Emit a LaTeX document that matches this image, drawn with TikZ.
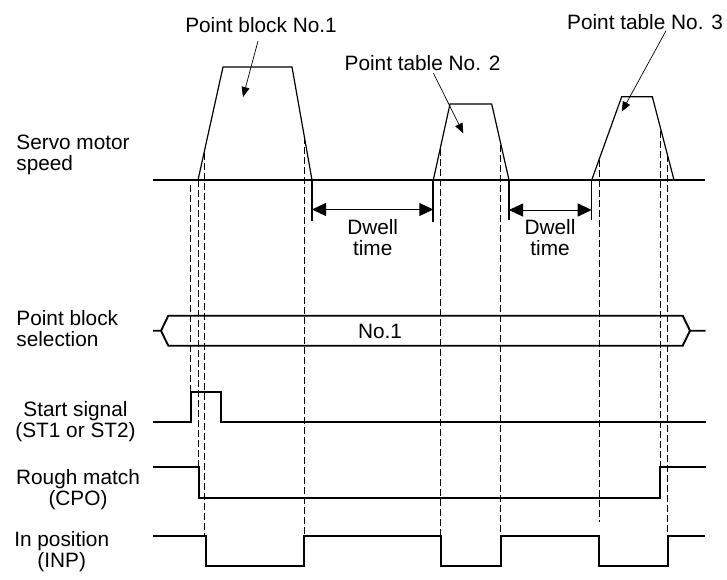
\documentclass[tikz,border=0pt]{standalone}
\usepackage{fontspec}
\setmainfont{Liberation Sans}
\usetikzlibrary{arrows.meta,calc}

\tikzset{
    sig/.style={line width=0.95pt},
    ramp/.style={line width=0.6pt},
    guide/.style={line width=0.4pt, dash pattern=on 3.3pt off 1.7pt},
    pointer/.style={line width=0.35pt, -{Triangle[length=5pt,width=4pt]}},
    dwell/.style={line width=0.45pt, {Triangle[length=7pt,width=6.5pt]}-{Triangle[length=7pt,width=6.5pt]}},
    lbl/.style={inner sep=0pt, align=center}
}

\begin{document}
\begin{tikzpicture}[x=0.5pt, y=-0.5pt, font=\fontsize{10.4}{10.5}\selectfont]
    \useasboundingbox (0,0) rectangle (727,579);

    % Signal names
    \node[lbl, anchor=west, align=left] (speed) at (16,155) {Servo motor\\speed};
    \node[lbl, anchor=west, align=left] (sel) at (16,329) {Point block\\selection};
    \node[lbl] (st) at (75.5,422) {Start signal\\(ST1 or ST2)};
    \node[lbl] (cpo) at (78,490) {Rough match\\(CPO)};
    \node[lbl] (inp) at (61.7,552) {In position\\(INP)};

    % Servo motor speed
    \draw[sig] (153,180) -- (705,180);
    \draw[ramp] (198,180) -- (223,67) -- (292,67) -- (312,180);
    \draw[ramp] (433.3,180) -- (450,104) -- (491.7,104) -- (509,180);
    \draw[ramp] (591.7,180) -- (621.7,96.7) -- (652.3,96.7) -- (674,180);

    % Point table labels
    \node[lbl] (blk1) at (261,25) {Point block No.1};
    \node[lbl] (tbl2) at (422.5,63.3) {Point table No. 2};
    \node[lbl] (tbl3) at (645,21.7) {Point table No. 3};
    \coordinate (pk1) at (243,97);
    \coordinate (pk2) at (463.3,133.3);
    \coordinate (pk3) at (621.7,111.7);
    \draw[pointer] ($(blk1.south)+(-3,8)$) -- (pk1);
    \draw[pointer] ($(tbl2.south)+(11,2)$) -- (pk2);
    \draw[pointer] ($(tbl3.south)+(21,1)$) -- (pk3);

    % Dwell times
    \draw[ramp] (312,180) -- (312,221);
    \draw[sig] (433.3,180) -- (433.3,222);
    \draw[ramp] (509,180) -- (509,220);
    \draw[ramp] (591.7,180) -- (591.7,220);
    \coordinate (d1a) at (312,209.5);
    \coordinate (d1b) at (433.3,209.5);
    \coordinate (d2a) at (509,210);
    \coordinate (d2b) at (591.7,210);
    \draw[dwell] (d1a) -- (d1b);
    \draw[dwell] (d2a) -- (d2b);
    \node[lbl] (dw1) at (372.7,237.5) {Dwell\\time};
    \node[lbl] (dw2) at (550,237.5) {Dwell\\time};

    % Point block selection
    \draw[sig] (153,330.7) -- (161,330.7) -- (168.3,315.7) -- (682.7,315.7) -- (690,330.7) -- (705.7,330.7);
    \draw[sig] (161,330.7) -- (168.3,345.7) -- (682.7,345.7) -- (690,330.7);
    \node[lbl] (no1) at (380,331) {No.1};

    % Start signal
    \draw[sig] (153,421.7) -- (190.7,421.7) -- (190.7,391.7) -- (220.7,391.7) -- (220.7,421.7) -- (705.7,421.7);

    % Rough match
    \draw[sig] (153,466.7) -- (198.7,466.7) -- (198.7,497.7) -- (660,497.7) -- (660,466.7) -- (705.7,466.7);

    % In position
    \draw[sig] (153,535.7) -- (205.7,535.7) -- (205.7,565.7) -- (304,565.7) -- (304,535.7)
        -- (440.7,535.7) -- (440.7,565.7) -- (500.7,565.7) -- (500.7,535.7)
        -- (599,535.7) -- (599,565.7) -- (668,565.7) -- (668,535.7) -- (704.7,535.7);

    % Timing guides
    \foreach \x/\ya/\yb in {190.7/185/392, 198.7/180/467, 204.5/153/536, 304/137/536,
        440/149/536, 500.7/145/536, 599/160/522, 660.5/131/467, 667.3/155/536}
        \draw[guide] (\x,\ya) -- (\x,\yb);

\end{tikzpicture}
\end{document}
